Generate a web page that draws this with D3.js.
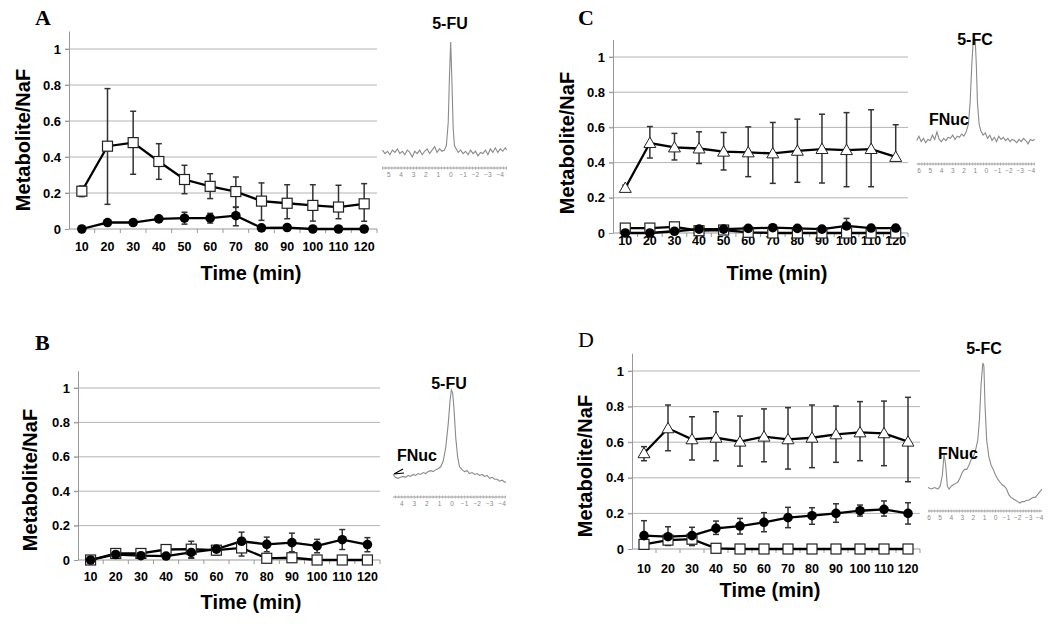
<!DOCTYPE html>
<html>
<head>
<meta charset="utf-8">
<script src="https://cdn.jsdelivr.net/npm/d3@7"></script>
<style>
  body { margin: 0; background: #fff; }
  text { font-family: "Liberation Sans", Arial, sans-serif; }
</style>
</head>
<body>
<svg id="fig" width="1050" height="624"></svg>
<script>
// sampling times (min) shared by all four panels
var times = [10, 20, 30, 40, 50, 60, 70, 80, 90, 100, 110, 120];
var yTicks = [0, 0.2, 0.4, 0.6, 0.8, 1];

// panel A
var aSq   = [0.21, 0.46, 0.48, 0.375, 0.275, 0.237, 0.208, 0.155, 0.143, 0.131, 0.122, 0.14];
var aSqLo = [0.18, 0.137, 0.304, 0.276, 0.196, 0.169, 0.122, 0.048, 0.057, 0.044, 0.057, 0.043];
var aSqHi = [0.239, 0.78, 0.654, 0.474, 0.354, 0.307, 0.289, 0.256, 0.246, 0.246, 0.243, 0.252];
var aDot   = [0, 0.036, 0.036, 0.056, 0.06, 0.06, 0.074, 0.006, 0.008, 0, 0, 0];
var aDotLo = [0, 0.03, 0.03, 0.05, 0.027, 0.033, 0.018, 0, 0, 0, 0, 0];
var aDotHi = [0, 0.042, 0.042, 0.062, 0.093, 0.087, 0.12, 0.012, 0.014, 0, 0, 0];

// panel B
var bSq   = [0, 0.038, 0.038, 0.061, 0.063, 0.057, 0.07, 0.01, 0.013, 0, 0, 0];
var bSqLo = [0, 0.03, 0.03, 0.05, 0.013, 0.029, 0.023, 0.005, 0.008, 0, 0, 0];
var bSqHi = [0, 0.057, 0.053, 0.082, 0.109, 0.065, 0.085, 0.015, 0.018, 0, 0, 0];
var bDot   = [0, 0.032, 0.025, 0.023, 0.044, 0.063, 0.109, 0.091, 0.101, 0.082, 0.118, 0.09];
var bDotLo = [0, 0.025, 0.02, 0.018, 0.01, 0.05, 0.057, 0.048, 0.048, 0.042, 0.061, 0.048];
var bDotHi = [0, 0.04, 0.03, 0.028, 0.06, 0.075, 0.162, 0.133, 0.156, 0.12, 0.177, 0.13];

// panel C
var cTri   = [0.256, 0.511, 0.486, 0.48, 0.462, 0.458, 0.452, 0.467, 0.477, 0.471, 0.477, 0.432];
var cTriLo = [0.24, 0.426, 0.415, 0.395, 0.358, 0.32, 0.282, 0.288, 0.284, 0.263, 0.263, 0.41];
var cTriHi = [0.272, 0.605, 0.566, 0.575, 0.571, 0.603, 0.628, 0.647, 0.675, 0.684, 0.7, 0.615];
var cSq = [0.028, 0.028, 0.035, 0.013, 0.017, 0.004, 0, 0, 0, 0, 0, 0];
var cDot   = [0, 0, 0.01, 0.022, 0.022, 0.026, 0.03, 0.026, 0.022, 0.04, 0.028, 0.028];
var cDotLo = [0, 0, 0.005, 0.015, 0.015, 0.02, 0.024, 0.02, 0.016, 0.02, 0.022, 0.022];
var cDotHi = [0, 0, 0.015, 0.03, 0.03, 0.032, 0.036, 0.032, 0.028, 0.083, 0.034, 0.034];

// panel D
var dTri   = [0.538, 0.678, 0.616, 0.625, 0.603, 0.631, 0.616, 0.625, 0.644, 0.655, 0.65, 0.603];
var dTriLo = [0.496, 0.552, 0.5, 0.496, 0.466, 0.49, 0.449, 0.457, 0.487, 0.496, 0.468, 0.378];
var dTriHi = [0.575, 0.809, 0.743, 0.771, 0.747, 0.787, 0.794, 0.809, 0.803, 0.828, 0.831, 0.852];
var dDot   = [0.075, 0.069, 0.075, 0.116, 0.129, 0.15, 0.176, 0.187, 0.2, 0.215, 0.223, 0.2];
var dDotLo = [0, 0.022, 0.02, 0.082, 0.084, 0.097, 0.12, 0.139, 0.15, 0.185, 0.185, 0.14];
var dDotHi = [0.159, 0.125, 0.122, 0.157, 0.172, 0.204, 0.234, 0.232, 0.254, 0.247, 0.27, 0.26];
var dSq   = [0.026, 0.05, 0.055, 0.004, 0, 0, 0, 0, 0, 0, 0, 0];
var dSqLo = [0.026, 0.02, 0.02, 0, 0, 0, 0, 0, 0, 0, 0, 0];
var dSqHi = [0.026, 0.06, 0.065, 0.004, 0, 0, 0, 0, 0, 0, 0, 0];

// 19F NMR insets: [ppm, relative intensity]
var specA = [[5.5,.06],[5.3,.03],[5.1,.05],[4.9,.02],[4.7,.06],[4.5,.04],[4.3,.07],[4.1,.03],[3.9,.05],[3.7,.02],
  [3.5,.06],[3.3,.04],[3.1,0],[2.9,.05],[2.7,.03],[2.5,.06],[2.3,.02],[2.1,.05],[1.9,.07],[1.7,.03],[1.5,.06],
  [1.3,.09],[1.1,.04],[0.9,.07],[0.7,.05],[0.5,.06],[0.35,.1],[0.2,.3],[0.1,.7],[0,1],[-0.1,.65],[-0.2,.25],
  [-0.3,.1],[-0.45,.07],[-0.6,.04],[-0.8,.06],[-1,.03],[-1.2,.05],[-1.4,.02],[-1.6,.06],[-1.8,.03],[-2,.05],
  [-2.2,.01],[-2.4,.04],[-2.6,.03],[-2.8,.06],[-3,.02],[-3.2,.07],[-3.4,.04],[-3.6,.08],[-3.8,.04],[-4,.07],
  [-4.2,.05],[-4.4,.08],[-4.5,.06]];
var specB = [[4.7,.12],[4.5,.09],[4.3,.08],[4.1,.09],[3.9,.1],[3.7,.09],[3.5,.11],[3.3,.1],[3.1,.12],[2.9,.11],
  [2.7,.13],[2.5,.12],[2.3,.14],[2.1,.13],[1.9,.15],[1.7,.16],[1.5,.15],[1.3,.17],[1.1,.18],[0.9,.2],[0.7,.26],
  [0.5,.4],[0.3,.65],[0.15,.9],[0.05,1],[-0.05,.97],[-0.15,.82],[-0.3,.5],[-0.45,.3],[-0.6,.2],[-0.8,.17],
  [-1,.15],[-1.2,.16],[-1.4,.13],[-1.6,.14],[-1.8,.12],[-2,.13],[-2.2,.11],[-2.4,.12],[-2.6,.1],[-2.8,.11],
  [-3,.08],[-3.2,.09],[-3.4,.07],[-3.6,.07],[-3.8,.05],[-4,.06],[-4.2,.04],[-4.3,.04]];
var specC = [[6.2,.05],[6,.09],[5.8,.04],[5.6,.07],[5.4,.03],[5.2,.06],[5,.05],[4.8,.1],[4.6,.06],[4.4,.13],
  [4.2,.06],[4,.04],[3.8,.07],[3.6,.05],[3.4,.08],[3.2,.07],[3,.1],[2.8,.06],[2.6,.09],[2.4,.08],[2.2,.11],
  [2,.09],[1.8,.13],[1.6,.2],[1.45,.4],[1.3,.75],[1.15,1],[1,.98],[0.9,.75],[0.8,.4],[0.65,.2],[0.5,.14],
  [0.3,.1],[0.1,.12],[-0.1,.07],[-0.3,.1],[-0.5,.05],[-0.7,.08],[-0.9,.04],[-1.1,.09],[-1.3,.06],[-1.5,.08],
  [-1.7,.05],[-1.9,.07],[-2.1,.04],[-2.3,.06],[-2.5,.05],[-2.7,.03],[-2.9,.06],[-3.1,.04],[-3.3,.07],
  [-3.5,.05],[-3.7,.02],[-3.9,.06],[-4.1,.05],[-4.3,.06]];
var specD = [[6.1,.11],[5.8,.1],[5.5,.11],[5.2,.1],[5,.12],[4.8,.2],[4.65,.35],[4.5,.27],[4.35,.12],[4.2,.1],
  [4,.12],[3.8,.13],[3.6,.14],[3.4,.15],[3.2,.18],[3,.22],[2.8,.24],[2.6,.24],[2.4,.27],[2.2,.31],[2,.33],
  [1.8,.38],[1.6,.45],[1.45,.6],[1.3,.85],[1.15,1],[1.05,.98],[0.95,.7],[0.8,.45],[0.6,.33],[0.4,.27],
  [0.2,.24],[0,.2],[-0.2,.17],[-0.4,.15],[-0.6,.13],[-0.8,.12],[-1,.1],[-1.2,.06],[-1.4,.04],[-1.6,.03],
  [-1.8,.02],[-2,.01],[-2.2,0],[-2.4,.01],[-2.6,.01],[-2.8,.02],[-3,.02],[-3.2,.03],[-3.4,.04],[-3.6,.04],
  [-3.8,.06],[-4,.08],[-4.2,.1]];

var svg = d3.select('#fig');

var panels = [
  {letter: 'A', letterBold: true, lx: 35, ly: 25, left: 69, right: 377, y0: 229, unit: 180, tickDy: 22,
   titleX: 251, titleY: 273, ylabX: 23, ylabY: 140,
   series: [{shape: 'square', v: aSq, lo: aSqLo, hi: aSqHi}, {shape: 'circle', v: aDot, lo: aDotLo, hi: aDotHi}]},
  {letter: 'B', letterBold: true, lx: 35, ly: 350, left: 78, right: 380, y0: 560, unit: 172, tickDy: 21,
   titleX: 251, titleY: 602, ylabX: 30, ylabY: 480,
   series: [{shape: 'square', v: bSq, lo: bSqLo, hi: bSqHi}, {shape: 'circle', v: bDot, lo: bDotLo, hi: bDotHi}]},
  {letter: 'C', letterBold: true, lx: 578, ly: 25, left: 613, right: 908, y0: 233, unit: 176, tickDy: 12,
   titleX: 777, titleY: 273, ylabX: 567, ylabY: 143,
   series: [{shape: 'triangle', v: cTri, lo: cTriLo, hi: cTriHi}, {shape: 'square', v: cSq},
            {shape: 'circle', v: cDot, lo: cDotLo, hi: cDotHi}]},
  {letter: 'D', letterBold: false, lx: 578, ly: 347, left: 632, right: 920, y0: 549, unit: 178, tickDy: 24,
   titleX: 770, titleY: 590, ylabX: 585, ylabY: 466,
   series: [{shape: 'triangle', v: dTri, lo: dTriLo, hi: dTriHi}, {shape: 'square', v: dSq, lo: dSqLo, hi: dSqHi},
            {shape: 'circle', v: dDot, lo: dDotLo, hi: dDotHi}]}
];

var insets = [
  {data: specA, ppm: [5.5, -4.5], x0: 382.5, x1: 506.5, base: 157, top: 42, axisY: 168,
   ticks: [5, 4, 3, 2, 1, 0, -1, -2, -3, -4], title: '5-FU', tx: 450, ty: 23},
  {data: specB, ppm: [4.7, -4.3], x0: 393, x1: 506, base: 486, top: 390, axisY: 497,
   ticks: [4, 3, 2, 1, 0, -1, -2, -3, -4], title: '5-FU', tx: 449, ty: 383,
   fnuc: [417, 455], arrow: true},
  {data: specC, ppm: [6.2, -4.3], x0: 916.7, x1: 1034.8, base: 146, top: 37, axisY: 164,
   ticks: [6, 5, 4, 3, 2, 1, 0, -1, -2, -3, -4], title: '5-FC', tx: 975, ty: 39, fnuc: [949, 119]},
  {data: specD, ppm: [6.1, -4.2], x0: 928, x1: 1042, base: 503, top: 363, axisY: 511,
   ticks: [6, 5, 4, 3, 2, 1, 0, -1, -2, -3, -4], title: '5-FC', tx: 984, ty: 348, fnuc: [958, 453]}
];

panels.forEach(function(p) {
  var x = d3.scaleBand().domain(times).range([p.left, p.right]);
  var y = d3.scaleLinear().domain([0, 1.1]).range([p.y0, p.y0 - 1.1 * p.unit]);
  var g = svg.append('g');

  // gridlines
  g.selectAll('.grid').data(yTicks.filter(function(d) { return d > 0; }))
    .enter().append('line')
      .attr('x1', p.left - 4).attr('x2', p.right)
      .attr('y1', function(d) { return y(d); }).attr('y2', function(d) { return y(d); })
      .attr('stroke', '#b4b4b4').attr('stroke-width', 1);

  // y axis
  var yAxis = g.append('g')
      .attr('transform', 'translate(' + p.left + ',0)')
      .call(d3.axisLeft(y).tickValues(yTicks).tickSize(4).tickSizeOuter(0).tickPadding(4)
        .tickFormat(function(d) { return String(d); }));
  yAxis.select('.domain').attr('stroke', '#999');
  yAxis.selectAll('.tick line').attr('stroke', '#999');
  yAxis.selectAll('.tick text').attr('font-size', 13).attr('font-weight', 'bold')
      .attr('font-family', '"Liberation Sans", Arial, sans-serif').attr('fill', '#000');

  // x axis line with category separators
  g.append('line').attr('x1', p.left).attr('x2', p.right).attr('y1', p.y0).attr('y2', p.y0)
      .attr('stroke', '#999');
  g.selectAll('.xsep').data(times)
    .enter().append('line')
      .attr('x1', function(d) { return x(d) + x.bandwidth(); })
      .attr('x2', function(d) { return x(d) + x.bandwidth(); })
      .attr('y1', p.y0).attr('y2', p.y0 + 4)
      .attr('stroke', '#999');
  g.selectAll('.xlab').data(times)
    .enter().append('text')
      .attr('x', function(d) { return x(d) + x.bandwidth() / 2; })
      .attr('y', p.y0 + p.tickDy)
      .attr('text-anchor', 'middle')
      .attr('font-size', 12.5).attr('font-weight', 'bold')
      .text(function(d) { return d; });

  var cx = function(i) { return x(times[i]) + x.bandwidth() / 2; };

  // error bars
  p.series.forEach(function(s) {
    if (!s.lo) return;
    var eb = g.append('g').attr('stroke', '#333').attr('stroke-width', 1.5);
    s.v.forEach(function(v, i) {
      if (s.hi[i] - s.lo[i] < 0.004) return;
      eb.append('line').attr('x1', cx(i)).attr('x2', cx(i)).attr('y1', y(s.lo[i])).attr('y2', y(s.hi[i]));
      eb.append('line').attr('x1', cx(i) - 3).attr('x2', cx(i) + 3).attr('y1', y(s.lo[i])).attr('y2', y(s.lo[i]));
      eb.append('line').attr('x1', cx(i) - 3).attr('x2', cx(i) + 3).attr('y1', y(s.hi[i])).attr('y2', y(s.hi[i]));
    });
  });

  // lines
  var line = d3.line().x(function(d, i) { return cx(i); }).y(function(d) { return y(d); });
  p.series.forEach(function(s) {
    g.append('path').attr('d', line(s.v)).attr('fill', 'none')
        .attr('stroke', '#000').attr('stroke-width', 2.3);
  });

  // markers
  p.series.forEach(function(s) {
    s.v.forEach(function(v, i) {
      if (s.shape === 'square') {
        g.append('rect').attr('x', cx(i) - 5).attr('y', y(v) - 5).attr('width', 10).attr('height', 10)
            .attr('fill', '#fff').attr('stroke', '#222').attr('stroke-width', 1.2);
      } else if (s.shape === 'circle') {
        g.append('circle').attr('cx', cx(i)).attr('cy', y(v)).attr('r', 4.8).attr('fill', '#000');
      } else {
        g.append('path')
            .attr('d', d3.symbol().type(d3.symbolTriangle).size(62)())
            .attr('transform', 'translate(' + cx(i) + ',' + (y(v) + 1) + ')')
            .attr('fill', '#fff').attr('stroke', '#222').attr('stroke-width', 1);
      }
    });
  });

  // titles
  g.append('text').attr('x', p.titleX).attr('y', p.titleY).attr('dy', '0.35em')
      .attr('text-anchor', 'middle').attr('font-size', 20).attr('font-weight', 'bold')
      .text('Time (min)');
  g.append('text').attr('transform', 'translate(' + p.ylabX + ',' + p.ylabY + ') rotate(-90)')
      .attr('dy', '0.35em').attr('text-anchor', 'middle').attr('font-size', 20).attr('font-weight', 'bold')
      .text('Metabolite/NaF');
  g.append('text').attr('x', p.lx).attr('y', p.ly)
      .style('font-family', '"Liberation Serif", "Times New Roman", serif')
      .attr('font-size', 22).attr('font-weight', p.letterBold ? 'bold' : 'normal')
      .text(p.letter);
});

insets.forEach(function(s) {
  var x = d3.scaleLinear().domain(s.ppm).range([s.x0, s.x1]);
  var y = d3.scaleLinear().domain([0, 1]).range([s.base, s.top]);
  var g = svg.append('g');

  g.append('path')
      .attr('d', d3.line().x(function(d) { return x(d[0]); }).y(function(d) { return y(d[1]); })(s.data))
      .attr('fill', 'none').attr('stroke', '#8a8a8a').attr('stroke-width', 1.1);

  var ax = g.append('g').attr('transform', 'translate(0,' + s.axisY + ')');
  ax.append('line').attr('x1', s.x0).attr('x2', s.x1).attr('stroke', '#999').attr('stroke-width', 1.2);
  ax.selectAll('.minor').data(d3.range(Math.ceil(s.ppm[1] * 4), Math.floor(s.ppm[0] * 4) + 1))
    .enter().append('line')
      .attr('x1', function(d) { return x(d / 4); }).attr('x2', function(d) { return x(d / 4); })
      .attr('y1', -1.5).attr('y2', 1.5).attr('stroke', '#b0b0b0');
  ax.selectAll('.lab').data(s.ticks)
    .enter().append('text')
      .attr('x', function(d) { return x(d); }).attr('y', 9)
      .attr('text-anchor', 'middle').attr('font-size', 6.5).attr('fill', '#888')
      .text(function(d) { return d < 0 ? '\u2212' + Math.abs(d) : d; });

  g.append('text').attr('x', s.tx).attr('y', s.ty).attr('dy', '0.35em')
      .attr('text-anchor', 'middle').attr('font-size', 16).attr('font-weight', 'bold').text(s.title);
  if (s.fnuc) {
    g.append('text').attr('x', s.fnuc[0]).attr('y', s.fnuc[1]).attr('dy', '0.35em')
        .attr('text-anchor', 'middle').attr('font-size', 16).attr('font-weight', 'bold').text('FNuc');
  }
  if (s.arrow) {
    g.append('path').attr('d', 'M403,469 L394,474 L404,473')
        .attr('fill', 'none').attr('stroke', '#000').attr('stroke-width', 1.2);
  }
});
</script>
</body>
</html>
